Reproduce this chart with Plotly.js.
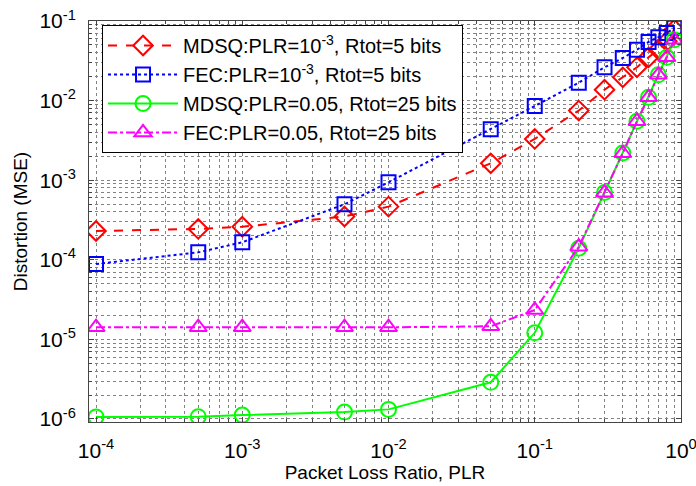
<!DOCTYPE html>
<html>
<head>
<meta charset="utf-8">
<script src="https://cdn.plot.ly/plotly-3.0.1.min.js"></script>
<style>html,body{margin:0;padding:0;background:#fff;}#chart{width:696px;height:486px;}</style>
</head>
<body>
<div id="chart"></div>
<script>
// Packet loss ratios (x)
const plrLow = [1e-4, 5e-4, 1e-3, 5e-3, 1e-2, 5e-2, 1e-1, 2e-1, 3e-1, 4e-1, 5e-1, 6e-1, 7e-1, 8e-1, 9e-1];
// Distortion values (y)
const mdsq5bits = [2.3e-4, 2.44e-4, 2.6e-4, 3.5e-4, 4.65e-4, 1.63e-3, 3.3e-3, 7.5e-3, 1.37e-2, 1.96e-2, 2.62e-2, 3.5e-2, 4.36e-2, 5.56e-2, 7.8e-2];
const fec5bits = [8.85e-5, 1.24e-4, 1.66e-4, 4.98e-4, 9.4e-4, 4.35e-3, 8.55e-3, 1.68e-2, 2.62e-2, 3.43e-2, 4.36e-2, 5.45e-2, 6.24e-2, 7.06e-2, 8.2e-2];
const mdsq25bits = [1.06e-6, 1.07e-6, 1.12e-6, 1.22e-6, 1.32e-6, 2.89e-6, 1.21e-5, 1.4e-4, 7.0e-4, 2.2e-3, 5.5e-3, 1.1e-2, 2.11e-2, 3.5e-2, 5.8e-2];
const fec25bits = [1.42e-5, 1.42e-5, 1.42e-5, 1.42e-5, 1.42e-5, 1.46e-5, 2.34e-5, 1.46e-4, 6.97e-4, 2.18e-3, 5.5e-3, 1.1e-2, 2.11e-2, 3.5e-2, 5.8e-2];

const seriesNames = [
  'MDSQ:PLR=10<sup>-3</sup>, Rtot=5 bits',
  'FEC:PLR=10<sup>-3</sup>, Rtot=5 bits',
  'MDSQ:PLR=0.05, Rtot=25 bits',
  'FEC:PLR=0.05, Rtot=25 bits'
];
const xTickVals = [1e-4, 1e-3, 1e-2, 1e-1, 1];
const xTickText = ['10<sup>-4</sup>', '10<sup>-3</sup>', '10<sup>-2</sup>', '10<sup>-1</sup>', '10<sup>0</sup>'];
const yTickVals = [1e-6, 1e-5, 1e-4, 1e-3, 1e-2, 1e-1];
const yTickText = ['10<sup>-6</sup>', '10<sup>-5</sup>', '10<sup>-4</sup>', '10<sup>-3</sup>', '10<sup>-2</sup>', '10<sup>-1</sup>'];

const traces = [
  {x: plrLow, y: mdsq5bits, name: seriesNames[0], mode: 'lines+markers',
   line: {color: '#ff0000', dash: 'dash', width: 2},
   marker: {symbol: 'diamond-open', size: 15, color: '#ff0000', line: {width: 2, color: '#ff0000'}}},
  {x: plrLow, y: fec5bits, name: seriesNames[1], mode: 'lines+markers',
   line: {color: '#0000ff', dash: 'dot', width: 2},
   marker: {symbol: 'square-open', size: 14, color: '#0000ff', line: {width: 2, color: '#0000ff'}}},
  {x: plrLow, y: mdsq25bits, name: seriesNames[2], mode: 'lines+markers',
   line: {color: '#00ff00', dash: 'solid', width: 2},
   marker: {symbol: 'circle-open', size: 15, color: '#00ff00', line: {width: 2, color: '#00ff00'}}},
  {x: plrLow, y: fec25bits, name: seriesNames[3], mode: 'lines+markers',
   line: {color: '#ff00ff', dash: 'dashdot', width: 2},
   marker: {symbol: 'triangle-up-open', size: 15, color: '#ff00ff', line: {width: 2, color: '#ff00ff'}}}
];

const gridCol = 'rgb(130,130,130)';
const layout = {
  width: 696, height: 486,
  margin: {l: 89, r: 15, t: 21, b: 64},
  paper_bgcolor: '#fff', plot_bgcolor: '#fff',
  font: {family: 'Liberation Sans, Arial, sans-serif', color: '#000', size: 15},
  showlegend: true,
  legend: {x: 0.022, y: 0.99, xanchor: 'left', yanchor: 'top', bgcolor: '#fff',
           bordercolor: '#000', borderwidth: 1, font: {size: 20}, itemwidth: 70,
           tracegroupgap: 0},
  xaxis: {type: 'log', range: [-4.048, 0], tickmode: 'array', tickvals: xTickVals, ticktext: xTickText,
          tickfont: {size: 21}, ticklabelstandoff: 10, ticklabeloverflow: 'allow', ticks: 'inside', ticklen: 5, tickcolor: '#444', mirror: 'allticks',
          showline: true, linecolor: '#444', linewidth: 1,
          showgrid: true, gridcolor: gridCol, griddash: 'dot', gridwidth: 1, zeroline: false,
          minor: {dtick: 'D1', ticks: 'inside', ticklen: 3, tickcolor: '#444', showgrid: true, gridcolor: gridCol, griddash: 'dot', gridwidth: 1},
          title: {text: 'Packet Loss Ratio, PLR', font: {size: 19}, standoff: 0}},
  yaxis: {type: 'log', range: [-6.038, -1], tickmode: 'array', tickvals: yTickVals, ticktext: yTickText,
          tickfont: {size: 21}, ticklabelstandoff: 8, ticks: 'inside', ticklen: 5, tickcolor: '#444', mirror: 'allticks',
          showline: true, linecolor: '#444', linewidth: 1,
          showgrid: true, gridcolor: gridCol, griddash: 'dot', gridwidth: 1, zeroline: false,
          minor: {dtick: 'D1', ticks: 'inside', ticklen: 3, tickcolor: '#444', showgrid: true, gridcolor: gridCol, griddash: 'dot', gridwidth: 1},
          title: {text: 'Distortion (MSE)', font: {size: 19}, standoff: 6}}
};

Plotly.newPlot('chart', traces, layout, {staticPlot: true, displayModeBar: false});
</script>
</body>
</html>
